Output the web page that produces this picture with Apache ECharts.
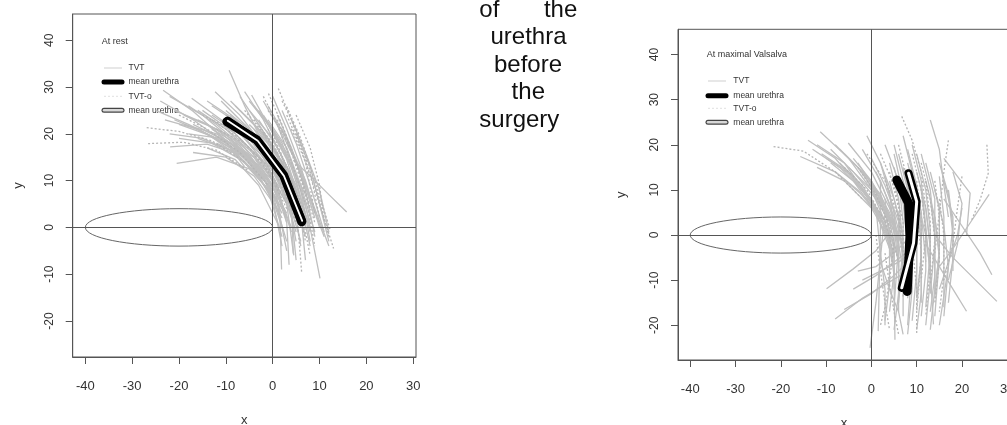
<!DOCTYPE html>
<html><head><meta charset="utf-8">
<script src="https://cdn.jsdelivr.net/npm/echarts@6/dist/echarts.min.js"></script>
<style>html,body{margin:0;padding:0;background:#fff}#c{width:1007px;height:425px}</style>
</head><body><div id="c"></div>
<script>
// ---------- data ----------
const xTicks = [-40, -30, -20, -10, 0, 10, 20, 30];
const yTicks = [-20, -10, 0, 10, 20, 30, 40];
const xRange = [-42.7, 30.6];
const yRange = [-27.7, 45.6];

// At rest, TVT (solid grey) urethra profiles
const restTVT = [
  [[-23.4,29.3],[-17,24.8],[-11,19.5],[-6,13]],
  [[-21.9,17.2],[-14,17.8],[-7,15.5],[-1,10]],
  [[-20.5,13.7],[-12,15],[-5,12.5],[1,6]],
  [[-17.3,27.6],[-11,23],[-5,17],[0,9]],
  [[-12.3,29],[-7,24],[-2,17.5],[2,9]],
  [[-9.3,33.6],[-6,26],[-2,18],[2.5,8]],
  [[-4.5,28.3],[-1,22],[3,14.5],[6,5]],
  [[4.4,14.4],[8,11],[12,7],[15.8,3.3]],
  [[-15,25],[-8,20],[-2,14],[3,5]],
  [[-19,24],[-12,21],[-5,15],[1,6]],
  [[-14,22],[-8,18.5],[-2,12],[3,3]],
  [[-10,25],[-4,20],[1,13],[5,3]],
  [[-8,26],[-3,21],[2,14],[6,4]],
  [[-6,24],[-1,19],[3,11],[7,1]],
  [[-12,20],[-6,16],[0,10],[4,0]],
  [[-16,19],[-9,16.5],[-3,11],[2,2]],
  [[-3,25],[1,19],[5,11],[8,1]],
  [[-7,21],[-2,16],[2,9],[5,-1]],
  [[-11,23],[-5,19],[0,12],[4,4]],
  [[-13,26],[-7,22],[-1,16],[4,7]],
  [[-2,27],[2,20],[6,12],[9,2]],
  [[-5,22],[0,17],[4,9],[7,-2]],
  [[-9,18],[-4,14],[0,7],[3,-3]],
  [[-4,18],[0,13],[3,5],[4.5,-6]],
  [[-1,22],[3,16],[6,8],[8,-3]],
  [[1,22],[4,14],[7,5],[10.1,-10.9]],
  [[-6,19],[-1,13],[1.5,4],[1.9,-9]],
  [[-3,20],[1,14],[4,5],[4.4,-5.6]],
  [[-18,20],[-11,19],[-4,15],[2,8]],
  [[-25,25],[-18,22],[-10,18],[-3,13]],
  [[-5,27],[-1,22],[3,15],[7,7]],
  [[2,21],[5,14],[8,6],[11,-2]],
  [[-8,23],[-3,18],[1,11],[4,2]],
  [[-1,17],[2,11],[4,3],[5,-7]],
  [[3,18],[6,12],[9,4],[12,-4]],
  [[-20,22],[-13,19.5],[-6,15],[0,8]],
  [[-22,20],[-15,19],[-8,16],[-2,10]],
  [[-17,16],[-10,15],[-4,11],[1,4]],
  [[-6,29],[-2,23],[2,15],[5,6]],
  [[-9,27],[-4,22],[1,15],[5,6]],
  [[0,28],[3,21],[6,13],[9,3]],
  [[4,23],[7,16],[10,8],[12,-1]],
  [[-2,15],[1,9],[3,1],[3.5,-8]],
  [[-14,17],[-8,14.5],[-3,9],[1,1]],
  [[1,17],[4,11],[6,3],[7,-7]],
  [[-24,27],[-17,23],[-10,18],[-4,12]],
  [[-21,25],[-14,22],[-8,17],[-2,11]],
  [[-18,26],[-12,22],[-6,17],[-1,10]],
  [[-16,23],[-10,20],[-4,14],[1,7]],
  [[-13,24],[-7,20],[-1,14],[3,6]],
  [[-11,27],[-6,22],[0,15],[4,6]],
  [[-7,28],[-3,22],[2,14],[6,5]],
  [[-5,25],[0,19],[4,11],[7,2]],
  [[-3,23],[1,17],[5,9],[8,0]],
  [[-1,26],[3,19],[7,10],[10,0]],
  [[-10,21],[-5,17],[0,10],[3,1]],
  [[-8,19],[-3,15],[1,8],[4,-1]],
  [[-6,16],[-2,12],[1,5],[3,-5]],
  [[-12,18],[-6,15],[-1,9],[2,0]],
  [[-15,21],[-9,18],[-3,12],[2,4]],
  [[-19,22],[-12,20],[-6,16],[0,9]],
  [[-23,23],[-16,21],[-9,17],[-3,11]],
  [[-20,19],[-13,18],[-6,14],[0,7]],
  [[-2,24],[2,18],[5,10],[8,-1]],
  [[2,25],[5,18],[8,9],[11,-1]],
  [[0,19],[3,13],[6,5],[8,-4]],
  [[-4,21],[0,15],[3,7],[6,-3]],
  [[1,24],[4,17],[7,8],[9,-2]],
  [[5,20],[8,13],[10,5],[12,-3]],
  [[-9,24],[-4,19],[1,12],[5,3]],
  [[-22,28],[-15,24],[-9,19],[-3,12]],
  [[-14,27],[-8,23],[-3,17],[1,9]],
  [[-17,22],[-11,19],[-5,14],[0,6]],
  [[-10,23],[-5,18],[0,11],[3,2]],
  [[-7,25],[-2,20],[2,12],[6,2]],
  [[-4,26],[0,21],[4,13],[7,3]],
  [[-11,19],[-6,15],[-1,8],[2,-2]],
  [[-5,20],[-1,15],[3,8],[5,-3]],
  [[-13,21],[-7,17.5],[-2,11],[2,3]],
  [[-16,25],[-10,21],[-4,15],[1,7]],
  [[-3,22],[1,16],[4,8],[6,-4]],
  [[-8,17],[-3,13],[0,6],[2,-4]],
  [[-21,23],[-14,20],[-7,15],[-1,8]],
  [[-1,23],[3,17],[6,9],[9,-1]],
  [[-6,22],[-1,17],[3,9],[6,0]]
];
// At rest, TVT-o (dotted grey)
const restTVTo = [
  [[-26.9,21.3],[-20,20.5],[-13,18.5],[-6,14]],
  [[-26.6,17.9],[-19,18.2],[-12,16.5],[-5,12]],
  [[1.2,29.7],[4,23],[7,14],[9,3]],
  [[-0.9,28.6],[2,22],[5,14],[8,4]],
  [[3,25.8],[6,19],[9,10],[12.3,-0.6]],
  [[3,24],[6,17],[9,8],[13,-4.5]],
  [[-2,20],[2,14],[5,5],[6.2,-9.8]],
  [[-10,24],[-5,20],[0,13],[4,4]],
  [[-6,25],[-1,19],[3,12],[7,3]],
  [[-15,24],[-9,21],[-3,15],[2,7]],
  [[-4,23],[0,18],[4,10],[7,0]],
  [[-1,25],[3,19],[6,11],[9,1]],
  [[0,20],[3,13],[6,4],[8,-6]],
  [[-12,21],[-6,18],[-1,12],[3,4]],
  [[2,27],[5,21],[8,12],[10,2]],
  [[-20,24],[-14,21],[-7,16],[-1,9]],
  [[-8,21],[-3,17],[2,10],[5,1]],
  [[1,23],[4,16],[7,7],[9,-4]],
  [[4,21],[7,14],[10,6],[12,-2]],
  [[-2,28],[1,22],[4,14],[7,5]],
  [[-13,23],[-7,19],[-1,13],[3,5]],
  [[-1,21],[2,15],[5,7],[7,-3]],
  [[5,24],[8,17],[10,9],[11,1]]
];
const restMeanTVT  = [[-9.8,22.6],[-3.4,18.7],[2.3,11.2],[6.2,1.2]];
const restMeanTVTo = [[-9.6,22.8],[-3.2,18.5],[2.4,11.0],[6.3,1.4]];

// At maximal Valsalva, TVT (solid grey)
const valsTVT = [
  [[-11.3,22.9],[-5,17],[0,10],[5,2]],
  [[-15.7,17.4],[-8,14],[-1,8],[5,-1]],
  [[-5.1,20.4],[0,14],[4,6],[7,-3]],
  [[-9.9,-11.9],[-4,-7.5],[1,-3.5],[5,2]],
  [[-8,-18.6],[-2,-14],[3,-11],[8,-8]],
  [[-6,-16.5],[0,-13],[5,-9],[9,-5]],
  [[13,25.5],[15,19],[16,11],[17,4]],
  [[16,17],[19,13],[21.8,9.3],[21,0]],
  [[16,8],[20,2],[24,-4],[26.6,-8.8]],
  [[14,0],[18,-5],[23,-10],[27.7,-14.7]],
  [[12,-2],[15,-7],[18,-12],[21,-16.9]],
  [[10,8],[12,0],[13,-8],[13.7,-19.8]],
  [[4,10],[5,0],[5,-10],[5.2,-23.2]],
  [[2,12],[2,2],[1.8,-8],[1.5,-21.3]],
  [[3,5],[2,-5],[1,-15],[-0.3,-25]],
  [[-3,16],[1,10],[4,3],[6,-6]],
  [[-7,16],[-2,11],[2,4],[5,-4]],
  [[-2,19],[2,12],[5,4],[7,-8]],
  [[3,20],[6,12],[8,3],[9,-10]],
  [[6,18],[8,10],[10,1],[10,-14]],
  [[8,16],[10,8],[11,-2],[11,-15]],
  [[10,14],[12,6],[13,-3],[12,-16]],
  [[12,12],[14,4],[15,-5],[14,-18]],
  [[14,10],[16,2],[17,-7],[15,-20]],
  [[16,12],[18,4],[18,-5],[17,-15]],
  [[4,16],[6,8],[7,-2],[6,-14]],
  [[1,14],[4,7],[6,-2],[5,-16]],
  [[-4,12],[0,8],[3,2],[5,-8]],
  [[7,12],[9,4],[9,-6],[8,-20]],
  [[5,20],[7,12],[9,2],[9,-12]],
  [[9,20],[11,12],[12,2],[13,-9]],
  [[20,6],[19,0],[17,-6],[15,-12]],
  [[26,9],[22,3],[18,-3],[15,-7]],
  [[-1,22],[2,16],[5,8],[7,0]],
  [[11,18],[13,10],[14,0],[14,-12]],
  [[-13,19],[-7,15],[-1,9],[4,2]],
  [[-10,17],[-4,13],[1,6],[5,-2]],
  [[-8,20],[-3,15],[2,8],[6,0]],
  [[-12,15],[-6,12],[0,6],[4,-1]],
  [[3,13],[5,5],[6,-5],[6,-17]],
  [[7,22],[9,14],[11,5],[12,-6]],
  [[15,16],[17,9],[18,0],[18,-8]],
  [[-4,-12],[1,-9],[5,-6],[9,-3]],
  [[18,14],[20,7],[19,-2],[17,-10]],
  [[2,-6],[4,-12],[6,-17],[7,-22]],
  [[-14,21],[-8,17],[-2,10],[3,3]],
  [[-9,19],[-4,14],[1,8],[5,1]],
  [[-6,18],[-1,13],[3,6],[6,-2]],
  [[-11,18],[-5,14],[0,7],[4,0]],
  [[-4,17],[0,12],[4,5],[7,-3]],
  [[-2,14],[2,9],[5,2],[6,-7]],
  [[0,17],[3,11],[6,3],[7,-6]],
  [[2,16],[4,9],[6,1],[6,-10]],
  [[5,15],[7,7],[8,-2],[8,-13]],
  [[6,12],[7,3],[7,-6],[7,-18]],
  [[9,10],[10,2],[10,-8],[9,-19]],
  [[11,10],[12,1],[12,-8],[11,-18]],
  [[13,14],[15,6],[15,-3],[14,-14]],
  [[15,13],[16,4],[16,-5],[16,-16]],
  [[17,10],[18,2],[17,-7],[16,-18]],
  [[10,18],[12,10],[13,1],[13,-10]],
  [[8,19],[10,11],[11,2],[11,-9]],
  [[3,8],[4,-2],[4,-11],[3,-19]],
  [[1,6],[2,-4],[3,-12],[3,-20]],
  [[6,5],[6,-5],[6,-13],[5,-21]],
  [[-8,14],[-3,10],[1,5],[4,-2]],
  [[-3,11],[1,6],[4,-1],[5,-9]],
  [[12,6],[13,-2],[13,-10],[12,-20]],
  [[14,4],[15,-4],[14,-12],[13,-21]],
  [[-2,-10],[2,-8],[6,-6],[10,-3]],
  [[-7,19],[-2,14],[2,7],[6,0]],
  [[-12,20],[-6,16],[-1,9],[3,2]],
  [[-5,15],[0,10],[3,3],[5,-5]],
  [[0,12],[3,5],[5,-3],[5,-12]],
  [[4,12],[6,4],[7,-5],[6,-15]],
  [[7,15],[9,6],[9,-4],[8,-14]],
  [[9,14],[11,5],[11,-5],[10,-14]],
  [[12,16],[14,8],[14,-2],[13,-13]],
  [[2,9],[4,1],[5,-8],[4,-17]],
  [[8,6],[9,-3],[9,-12],[8,-22]],
  [[11,4],[11,-5],[11,-13],[10,-21]],
  [[5,18],[7,9],[8,0],[8,-10]],
  [[-9,16],[-4,12],[1,5],[4,-3]],
  [[13,8],[14,0],[14,-9],[13,-17]],
  [[-3,-8],[1,-7],[5,-4],[9,0]]
];
// At maximal Valsalva, TVT-o (dotted grey)
const valsTVTo = [
  [[-21.6,19.6],[-15,18.6],[-8,14],[-2,8]],
  [[6.7,26.3],[9,21],[11,14],[12,6]],
  [[25.5,20],[25.8,13.7],[24,7.8],[22,3]],
  [[10,-21.7],[10,-12],[9,-2],[8,8]],
  [[17,21],[16,14],[15,5],[14,-4]],
  [[-3,15],[1,9],[4,2],[6,-6]],
  [[2,18],[5,11],[7,3],[7,-8]],
  [[8,14],[10,6],[11,-4],[10,-16]],
  [[12,12],[13,3],[13,-7],[12,-18]],
  [[15,8],[16,0],[16,-9],[15,-17]],
  [[5,-2],[4,-10],[3,-16],[2,-20]],
  [[20,13],[19,6],[18,-2],[16,-10]],
  [[-6,15],[-1,10],[3,3],[5,-4]],
  [[1,0],[2,-8],[3,-15],[4,-21]],
  [[9,18],[11,10],[12,0],[11,-10]],
  [[-1,18],[3,12],[6,4],[7,-5]],
  [[4,14],[6,6],[7,-3],[7,-14]],
  [[10,12],[11,4],[11,-6],[10,-17]],
  [[14,12],[15,4],[15,-6],[14,-15]],
  [[6,20],[8,12],[9,3],[9,-8]],
  [[3,-4],[4,-11],[5,-17],[6,-22]],
  [[11,16],[13,8],[14,-1],[13,-11]]
];
const valsMeanTVT  = [[5.6,12.2],[8.2,7.1],[8.5,-0.3],[7.9,-12.5]];
const valsMeanTVTo = [[8.2,13.7],[10.0,7.4],[9.3,-1.8],[6.7,-11.7]];

// bladder outline: centre x, centre y, half-width, half-height
const bladder = [-20, 0, 20, 4];

const panelTitles = ['At rest', 'At maximal Valsalva'];
const legendLabels = ['TVT', 'mean urethra', 'TVT-o', 'mean urethra'];
const sideWords = ['of', 'the', 'urethra', 'before', 'the', 'surgery'];

// ---------- chart ----------
const FONT = "'Liberation Sans',Arial,sans-serif";
const AX = '#555';
const GREY = '#bfbfbf';

function xAxis(g) {
  return {
    type: 'value', gridIndex: g, min: xRange[0], max: xRange[1],
    axisLine: { show: true, onZero: false, lineStyle: { color: AX } },
    axisTick: { show: true, length: 7, lineStyle: { color: AX }, customValues: xTicks },
    axisLabel: { customValues: xTicks, fontFamily: FONT, fontSize: 13, color: '#333', margin: 23 },
    splitLine: { show: false },
    name: 'x', nameLocation: 'middle', nameGap: 57,
    nameTextStyle: { fontFamily: FONT, fontSize: 13, color: '#333' }
  };
}
function yAxis(g, gap) {
  return {
    type: 'value', gridIndex: g, min: yRange[0], max: yRange[1],
    axisLine: { show: true, onZero: false, lineStyle: { color: AX } },
    axisTick: { show: true, length: 7, lineStyle: { color: AX }, customValues: yTicks },
    axisLabel: { customValues: yTicks, rotate: 90, fontFamily: FONT, fontSize: 12, color: '#333', margin: 17 },
    splitLine: { show: false },
    name: 'y', nameLocation: 'middle', nameGap: gap,
    nameTextStyle: { fontFamily: FONT, fontSize: 13, color: '#333' }
  };
}

function panelSeries(g, tvt, tvto, mTVT, mTVTo, whiteW) {
  return [
    { type: 'lines', coordinateSystem: 'cartesian2d', xAxisIndex: g, yAxisIndex: g, polyline: true,
      data: tvt.map(c => ({ coords: c })), silent: true, z: 2,
      lineStyle: { color: GREY, width: 1.3, opacity: 1 } },
    { type: 'lines', coordinateSystem: 'cartesian2d', xAxisIndex: g, yAxisIndex: g, polyline: true,
      data: tvto.map(c => ({ coords: c })), silent: true, z: 2,
      lineStyle: { color: '#b5b5b5', width: 1.3, opacity: 1, type: [2, 2] } },
    { type: 'line', xAxisIndex: g, yAxisIndex: g, data: [], silent: true, z: 3,
      markLine: { silent: true, symbol: ['none', 'none'], label: { show: false },
        lineStyle: { color: '#555', width: 1, type: 'solid' }, animation: false,
        data: [{ xAxis: 0 }, { yAxis: 0 }] } },
    { type: 'custom', xAxisIndex: g, yAxisIndex: g, data: [bladder], silent: true, z: 3,
      renderItem: (p, api) => {
        const c = api.coord([api.value(0), api.value(1)]);
        const s = api.size([api.value(2), api.value(3)]);
        return { type: 'ellipse', shape: { cx: c[0], cy: c[1], rx: s[0], ry: s[1] },
          style: { fill: 'none', stroke: '#666', lineWidth: 1 } };
      } },
    { type: 'line', xAxisIndex: g, yAxisIndex: g, data: mTVT, symbol: 'none', silent: true, z: 5,
      lineStyle: { color: '#000', width: 9, cap: 'round', join: 'round' } },
    { type: 'line', xAxisIndex: g, yAxisIndex: g, data: mTVTo, symbol: 'none', silent: true, z: 6,
      lineStyle: { color: '#000', width: 8, cap: 'round', join: 'round' } },
    { type: 'line', xAxisIndex: g, yAxisIndex: g, data: mTVTo, symbol: 'none', silent: true, z: 7,
      lineStyle: { color: '#fff', width: whiteW, cap: 'round', join: 'round' } }
  ];
}

function legendGraphic(titleX, titleY, x1, x2, tx, rows, title) {
  const els = [{ type: 'text', x: titleX, y: titleY,
    style: { text: title, font: "9px " + FONT, fill: '#333', textVerticalAlign: 'middle' } }];
  const styles = [
    { stroke: '#cfcfcf', lineWidth: 1 },
    { stroke: '#000', lineWidth: 5, lineCap: 'round' },
    { stroke: '#e0e0e0', lineWidth: 1, lineDash: [2, 2] },
    null
  ];
  legendLabels.forEach((lab, i) => {
    const y = rows[i];
    if (i === 3) {
      els.push({ type: 'line', shape: { x1: x1, y1: y, x2: x2, y2: y }, style: { stroke: '#444', lineWidth: 5, lineCap: 'round' } });
      els.push({ type: 'line', shape: { x1: x1, y1: y, x2: x2, y2: y }, style: { stroke: '#d8d8d8', lineWidth: 2.5, lineCap: 'round' } });
    } else {
      els.push({ type: 'line', shape: { x1: x1, y1: y, x2: x2, y2: y }, style: styles[i] });
    }
    els.push({ type: 'text', x: tx, y: y,
      style: { text: lab, font: "8.5px " + FONT, fill: '#333', textVerticalAlign: 'middle' } });
  });
  return els;
}

const sidePos = [
  [479.3, 18, 'left'], [577.3, 18, 'right'], [528.5, 45.5, 'center'],
  [528, 73, 'center'], [528.3, 100.5, 'center'], [479.3, 128, 'left']
];
const sideEls = sideWords.map((w, i) => ({
  type: 'text', x: sidePos[i][0], y: sidePos[i][1] - 8,
  style: { text: w, font: "24px 'Liberation Sans',Arial,sans-serif", fill: '#111',
    textAlign: sidePos[i][2], textVerticalAlign: 'middle' }
}));

const chart = echarts.init(document.getElementById('c'), null, { renderer: 'canvas' });
chart.setOption({
  animation: false,
  backgroundColor: '#fff',
  grid: [
    { left: 72.7, top: 14, width: 343.3, height: 343, show: true, borderColor: AX, borderWidth: 1, containLabel: false, outerBoundsMode: 'none' },
    { left: 678, top: 29.3, width: 332, height: 330.7, show: true, borderColor: AX, borderWidth: 1, containLabel: false, outerBoundsMode: 'none' }
  ],
  xAxis: [xAxis(0), xAxis(1)],
  yAxis: [yAxis(0, 48), yAxis(1, 50)],
  series: [].concat(
    panelSeries(0, restTVT, restTVTo, restMeanTVT, restMeanTVTo, 1.8),
    panelSeries(1, valsTVT, valsTVTo, valsMeanTVT, valsMeanTVTo, 3)
  ),
  graphic: [].concat(
    legendGraphic(101.7, 41.7, 104, 122, 128.5, [68, 82, 96.3, 110.3], panelTitles[0]),
    legendGraphic(706.7, 55, 708, 726, 733.3, [81, 95.7, 108.3, 122.3], panelTitles[1]),
    sideEls
  )
});
</script></body></html>
